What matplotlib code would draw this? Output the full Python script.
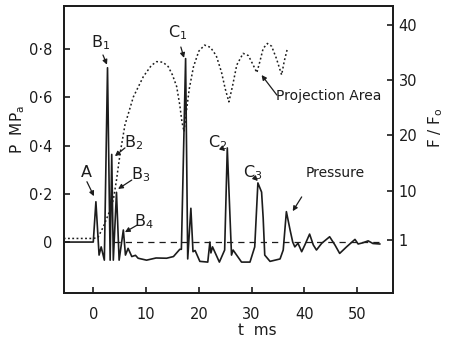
import numpy as np
import matplotlib.pyplot as plt

plt.rcParams['font.family'] = ['DejaVu Sans']
plt.rcParams['mathtext.default'] = 'regular'

# pressure trace (t in ms, P in MPa)
t_p = [-5.6, 0.0, 0.5, 1.1, 1.5, 2.1, 2.7, 3.2, 3.5, 3.8, 4.4, 4.9, 5.7, 6.1, 6.6, 7.3,
       8.0, 8.5, 10.1, 11.9, 13.9, 15.2, 16.4, 16.7, 17.5, 17.9, 18.5, 18.9, 19.3, 20.2,
       21.7, 22.1, 22.3, 22.6, 23.9, 24.9, 25.4, 26.2, 26.5, 28.1, 29.7, 30.6, 31.2, 31.9,
       32.2, 32.5, 33.5, 35.4, 36.0, 36.6, 37.3, 37.8, 38.2, 38.8, 39.5, 40.1, 41.0, 41.7,
       42.3, 43.3, 44.8, 45.8, 46.7, 48.0, 49.6, 50.2, 51.1, 52.1, 53.0, 54.3]
pressure = [0.0, 0.0, 0.167, -0.054, -0.02, -0.075, 0.722, -0.075, 0.363, -0.075, 0.206,
            -0.075, 0.05, -0.054, -0.026, -0.06, -0.055, -0.067, -0.075, -0.066, -0.067,
            -0.06, -0.03, -0.03, 0.76, -0.07, 0.14, -0.04, -0.035, -0.08, -0.083, 0.0,
            -0.045, -0.02, -0.083, -0.033, 0.39, -0.054, -0.033, -0.083, -0.083, -0.02,
            0.245, 0.207, 0.1, -0.054, -0.08, -0.07, -0.033, 0.126, 0.05, 0.0, -0.02,
            -0.005, -0.04, -0.012, 0.033, -0.012, -0.033, -0.005, 0.022, -0.012, -0.047,
            -0.02, 0.011, -0.008, -0.003, 0.005, -0.006, -0.008]

# projection area ratio F/Fo
t_f = [-5.6, 0.0, 0.9, 1.9, 3.0, 3.8, 4.4, 5.1, 6.0, 7.6, 9.5, 11.0, 12.0, 13.2, 14.2,
       15.0, 15.8, 16.4, 16.8, 17.2, 17.6, 18.2, 19.0, 20.0, 21.1, 22.2, 23.3, 24.3,
       25.0, 25.7, 26.4, 27.2, 28.4, 29.4, 30.3, 31.0, 31.6, 32.2, 33.0, 33.8, 34.7,
       35.3, 35.7, 36.2, 36.8]
area = [1.3, 1.3, 1.5, 3.4, 6.0, 8.3, 11.9, 16.8, 21.9, 27.0, 30.7, 32.7, 33.4, 33.3,
        32.5, 31.0, 28.9, 25.5, 22.5, 20.7, 24.0, 28.5, 32.5, 35.3, 36.4, 36.0, 34.5,
        31.5, 28.5, 26.1, 29.0, 32.8, 34.9, 34.5, 32.8, 31.4, 33.5, 35.8, 36.7, 36.2,
        34.0, 32.2, 31.0, 33.5, 35.8]

x_ticks = [0, 10, 20, 30, 40, 50]
p_ticks = [0, 0.2, 0.4, 0.6, 0.8]
p_labels = ['0', '0·2', '0·4', '0·6', '0·8']
f_ticks = [1, 10, 20, 30, 40]

ink = '#1c1c1c'
fig = plt.figure(figsize=(4.49, 3.49), dpi=100)
ax = fig.add_axes([0.1425, 0.1605, 0.7327, 0.8223])
ax2 = ax.twinx()

ax.plot(t_p, pressure, color=ink, lw=1.2, zorder=3)
ax.plot([4, 55], [0, 0], color=ink, lw=0.9, ls=(0, (5, 4)))
ax2.plot(t_f, area, color=ink, lw=1.1, ls=(0, (1.2, 1.6)))

ax.set_xlim(-5.55, 56.8)
ax.set_ylim(-0.211, 0.978)
ax2.set_ylim(-8.6, 43.5)

ax.set_xticks(x_ticks)
ax.set_yticks(p_ticks)
ax.set_yticklabels(p_labels)
ax2.set_yticks(f_ticks)
ax.tick_params(axis='x', direction='in', length=4, width=1.2, pad=10, labelsize=10.5, colors=ink)
ax.tick_params(axis='y', direction='in', length=4, width=1.2, pad=8, labelsize=10.5, colors=ink)
ax2.tick_params(axis='y', direction='in', length=4, width=1.2, pad=4, labelsize=10.5, colors=ink)
for a in (ax, ax2):
    for s in a.spines.values():
        s.set_linewidth(1.3)
        s.set_color(ink)

ax.text(-0.14, 0.568, 'P  MP$_a$', transform=ax.transAxes, rotation=90,
        ha='center', va='center', fontsize=11, color=ink)
ax.text(1.13, 0.575, 'F / F$_o$', transform=ax.transAxes, rotation=90,
        ha='center', va='center', fontsize=11, color=ink)
ax.text(0.587, -0.129, 't  ms', transform=ax.transAxes,
        ha='center', va='center', fontsize=11, color=ink)

arrow = dict(arrowstyle='-|>', color=ink, lw=0.9, mutation_scale=7, shrinkA=0, shrinkB=0)
notes = [
    ('A', (-1.4, 0.29), (-1.2, 0.25), (0.13, 0.19)),
    ('B$_1$', (1.3, 0.825), (1.84, 0.775), (2.6, 0.735)),
    ('B$_2$', (7.6, 0.41), (6.0, 0.39), (4.1, 0.356)),
    ('B$_3$', (8.9, 0.278), (7.3, 0.257), (4.7, 0.22)),
    ('B$_4$', (9.5, 0.083), (8.3, 0.07), (6.0, 0.041)),
    ('C$_1$', (16.0, 0.866), (16.6, 0.808), (17.2, 0.763)),
    ('C$_2$', (23.6, 0.41), (24.4, 0.388), (25.0, 0.377)),
    ('C$_3$', (30.2, 0.286), (30.6, 0.266), (31.2, 0.253)),
]
for label, txt, tail, head in notes:
    ax.text(txt[0], txt[1], label, ha='center', va='center', fontsize=11.5, color=ink)
    ax.annotate('', xy=head, xytext=tail, arrowprops=arrow)

ax.text(45.8, 0.286, 'Pressure', ha='center', va='center', fontsize=10, color=ink)
ax.annotate('', xy=(37.8, 0.128), xytext=(39.5, 0.187), arrowprops=arrow)
ax.text(44.6, 0.605, 'Projection Area', ha='center', va='center', fontsize=10, color=ink)
ax.annotate('', xy=(31.9, 0.692), xytext=(34.8, 0.609), arrowprops=arrow)

fig.savefig('out.png', dpi=100)
